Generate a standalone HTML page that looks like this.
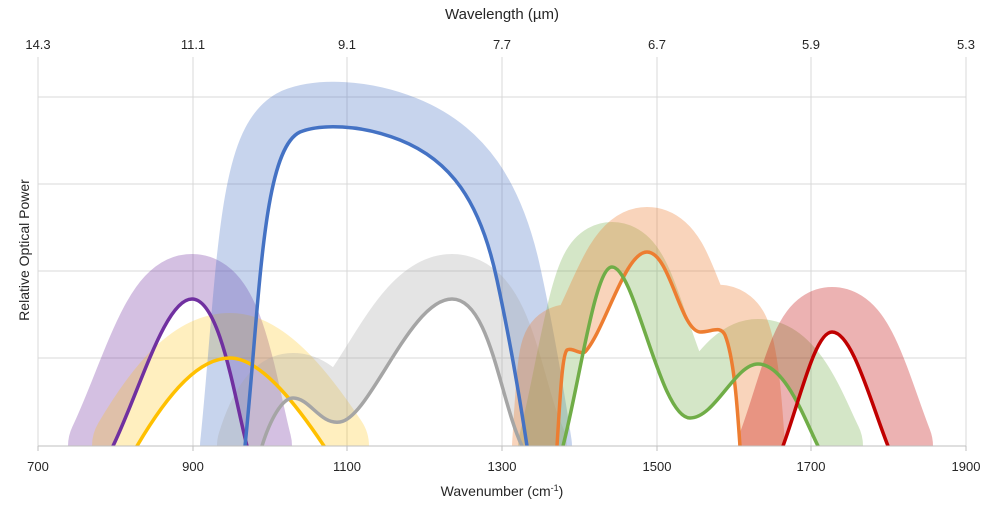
<!DOCTYPE html>
<html><head><meta charset="utf-8"><style>
html,body{margin:0;padding:0;background:#fff}
svg text{font-family:"Liberation Sans",sans-serif;fill:#262626}
</style></head><body>
<svg width="993" height="505" viewBox="0 0 993 505" xmlns="http://www.w3.org/2000/svg">
<defs>
<clipPath id="c"><rect x="38" y="0" width="930" height="446"/></clipPath>
<clipPath id="pu"><path d="M-100,446 L113,446 C140,390 165,299 192,299 C220,299 235,400 247,446 L2000,446 L2000,-100 L-100,-100Z"/></clipPath>
<clipPath id="ye"><path d="M-100,446 L137,446 C170,390 200,358 230,358 C262,358 300,410 324,446 L2000,446 L2000,-100 L-100,-100Z"/></clipPath>
<clipPath id="bl"><path d="M-100,446 L245,446 C260,300 262,150 300,132 C320,124 360,124 400,140 C450,160 480,200 497,280 C510,340 520,400 527,446 L2000,446 L2000,-100 L-100,-100Z"/></clipPath>
<clipPath id="gr"><path d="M-100,446 L262,446 C270,420 282,398 293,398 C310,398 320,425 340,422 C370,418 410,299 452,299 C490,299 500,400 522,446 L2000,446 L2000,-100 L-100,-100Z"/></clipPath>
<clipPath id="gn"><path d="M-100,446 L563,446 C580,380 595,267 612,267 C635,267 660,418 690,418 C715,418 735,364 758,364 C785,364 805,420 818,446 L2000,446 L2000,-100 L-100,-100Z"/></clipPath>
<clipPath id="or"><path d="M-100,446 L557,446 C560,400 562,355 567,350 C572,347 580,355 585,352 C605,330 625,252 647,252 C670,252 680,330 700,332 C712,332 720,325 725,335 C735,360 738,420 740,446 L2000,446 L2000,-100 L-100,-100Z"/></clipPath>
<clipPath id="re"><path d="M-100,446 L783,446 C800,400 815,332 832,332 C852,332 870,400 888,446 L2000,446 L2000,-100 L-100,-100Z"/></clipPath>
</defs>
<g stroke="#d9d9d9" stroke-width="1">
<line x1="38" y1="97" x2="966" y2="97"/><line x1="38" y1="184" x2="966" y2="184"/>
<line x1="38" y1="271" x2="966" y2="271"/><line x1="38" y1="358" x2="966" y2="358"/>
<line x1="38" y1="57" x2="38" y2="446"/><line x1="193" y1="57" x2="193" y2="446"/>
<line x1="347" y1="57" x2="347" y2="446"/><line x1="502" y1="57" x2="502" y2="446"/>
<line x1="657" y1="57" x2="657" y2="446"/><line x1="811" y1="57" x2="811" y2="446"/>
<line x1="966" y1="57" x2="966" y2="446"/>
</g>
<g clip-path="url(#c)" fill="none" stroke-linejoin="round" stroke-linecap="round">
<g stroke-width="90">
<path clip-path="url(#pu)" stroke="#7030A0" stroke-opacity="0.3" d="M113,470 L113,446 C140,390 165,299 192,299 C220,299 235,400 247,446 L247,470"/>
<path clip-path="url(#ye)" stroke="#FFC000" stroke-opacity="0.25" d="M137,470 L137,446 C170,390 200,358 230,358 C262,358 300,410 324,446 L324,470"/>
<path clip-path="url(#bl)" stroke="#4472C4" stroke-opacity="0.3" d="M245,470 L245,446 C260,300 262,150 300,132 C320,124 360,124 400,140 C450,160 480,200 497,280 C510,340 520,400 527,446 L527,470"/>
<path clip-path="url(#gr)" stroke="#A5A5A5" stroke-opacity="0.3" d="M262,470 L262,446 C270,420 282,398 293,398 C310,398 320,425 340,422 C370,418 410,299 452,299 C490,299 500,400 522,446 L522,470"/>
<path clip-path="url(#gn)" stroke="#70AD47" stroke-opacity="0.3" d="M563,470 L563,446 C580,380 595,267 612,267 C635,267 660,418 690,418 C715,418 735,364 758,364 C785,364 805,420 818,446 L818,470"/>
<path clip-path="url(#or)" stroke="#ED7D31" stroke-opacity="0.33" d="M557,470 L557,446 C560,400 562,355 567,350 C572,347 580,355 585,352 C605,330 625,252 647,252 C670,252 680,330 700,332 C712,332 720,325 725,335 C735,360 738,420 740,446 L740,470"/>
<path clip-path="url(#re)" stroke="#C00000" stroke-opacity="0.3" d="M783,470 L783,446 C800,400 815,332 832,332 C852,332 870,400 888,446 L888,470"/>
</g>
<g stroke-width="3.5">
<path stroke="#7030A0" d="M113,446 C140,390 165,299 192,299 C220,299 235,400 247,446"/>
<path stroke="#FFC000" d="M137,446 C170,390 200,358 230,358 C262,358 300,410 324,446"/>
<path stroke="#4472C4" d="M245,446 C260,300 262,150 300,132 C320,124 360,124 400,140 C450,160 480,200 497,280 C510,340 520,400 527,446"/>
<path stroke="#A5A5A5" d="M262,446 C270,420 282,398 293,398 C310,398 320,425 340,422 C370,418 410,299 452,299 C490,299 500,400 522,446"/>
<path stroke="#ED7D31" d="M557,446 C560,400 562,355 567,350 C572,347 580,355 585,352 C605,330 625,252 647,252 C670,252 680,330 700,332 C712,332 720,325 725,335 C735,360 738,420 740,446"/>
<path stroke="#70AD47" d="M563,446 C580,380 595,267 612,267 C635,267 660,418 690,418 C715,418 735,364 758,364 C785,364 805,420 818,446"/>
<path stroke="#C00000" d="M783,446 C800,400 815,332 832,332 C852,332 870,400 888,446"/>
</g>
</g>
<g stroke="#bfbfbf" stroke-width="1">
<line x1="38" y1="446" x2="966" y2="446"/>
<line x1="38" y1="446" x2="38" y2="451"/><line x1="193" y1="446" x2="193" y2="451"/><line x1="347" y1="446" x2="347" y2="451"/><line x1="502" y1="446" x2="502" y2="451"/><line x1="657" y1="446" x2="657" y2="451"/><line x1="811" y1="446" x2="811" y2="451"/><line x1="966" y1="446" x2="966" y2="451"/>
</g>
<g font-size="13" text-anchor="middle">
<text x="38" y="471">700</text><text x="193" y="471">900</text><text x="347" y="471">1100</text><text x="502" y="471">1300</text><text x="657" y="471">1500</text><text x="811" y="471">1700</text><text x="966" y="471">1900</text>
<text x="38" y="49">14.3</text><text x="193" y="49">11.1</text><text x="347" y="49">9.1</text><text x="502" y="49">7.7</text><text x="657" y="49">6.7</text><text x="811" y="49">5.9</text><text x="966" y="49">5.3</text>
<text x="502" y="496" font-size="14">Wavenumber (cm<tspan font-size="9" dy="-5">-1</tspan><tspan dy="5">)</tspan></text>
<text x="502" y="19" font-size="15">Wavelength (µm)</text>
<text transform="translate(29,250) rotate(-90)" font-size="14">Relative Optical Power</text>
</g>
</svg>
</body></html>
